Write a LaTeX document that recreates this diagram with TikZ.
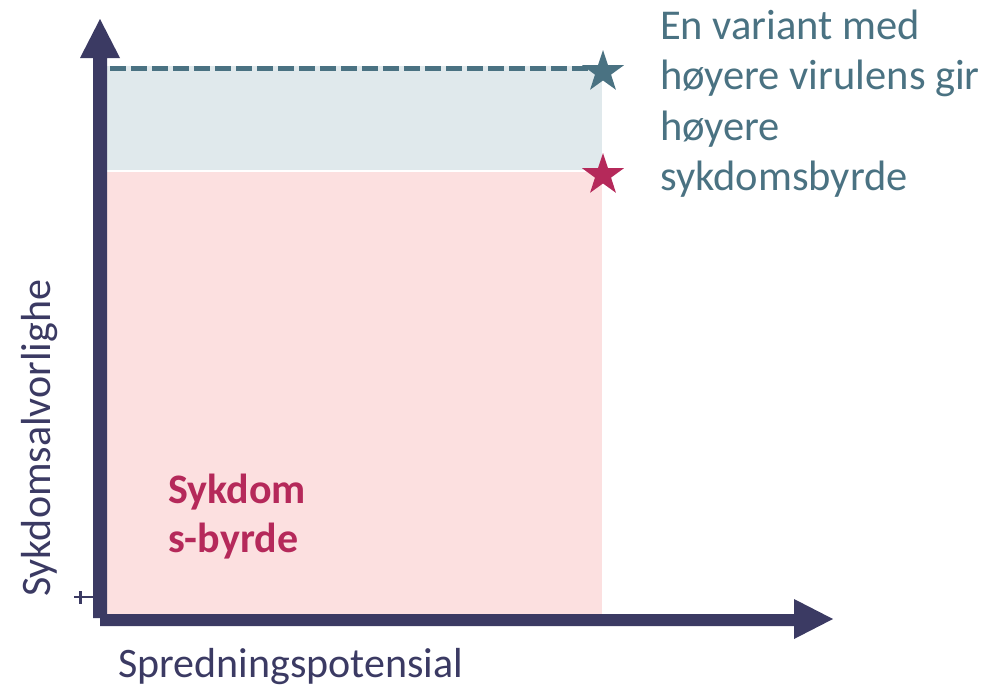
\documentclass[tikz,border=0pt]{standalone}
\usepackage{fontspec}
\setmainfont{Carlito}
\usetikzlibrary{shapes.geometric}
\definecolor{navy}{HTML}{3B3A63}
\definecolor{teal}{HTML}{4A7282}
\definecolor{berry}{HTML}{B5295A}
\definecolor{pinkfill}{HTML}{FCE0E0}
\definecolor{bluefill}{HTML}{E0E9EC}
\begin{document}
\begin{tikzpicture}[x=1pt,y=-1pt,
  axis/.style={draw=none,fill=navy},
  txt/.style={inner sep=0pt,anchor=base west},
  note/.style={txt,text=teal,font=\fontsize{42.5}{50.5}\selectfont},
  starmark/.style={star,star points=5,star point ratio=2.6,minimum size=44pt,inner sep=0pt,draw=none}]
\useasboundingbox (0,0) rectangle (990,691);
% areas
\fill[pinkfill] (107,172) rectangle (602,615);
\fill[bluefill] (107,66) rectangle (602,170);
% dashed level line
\draw[teal,line width=5pt,dash pattern=on 5pt off 5pt on 16pt off 5pt on 16pt off 5pt on 16pt off 5pt on 16pt off 5pt on 16pt off 5pt on 16pt off 5pt on 16pt off 5pt on 16pt off 5pt on 16pt off 5pt on 16pt off 5pt on 16pt off 5pt on 16pt off 5pt on 16pt off 5pt on 16pt off 5pt on 16pt off 5pt on 16pt off 5pt on 16pt off 5pt on 16pt off 5pt on 16pt off 5pt on 16pt off 5pt on 16pt off 5pt on 16pt off 5pt on 16pt off 5pt on 16pt off 5pt on 16pt off 5pt on 16pt off 5pt on 16pt off 5pt on 16pt off 5pt on 16pt off 5pt] (100,68) -- (590,68);
% y axis with arrow head
\fill[axis] (93,618) -- (93,58) -- (80,58) -- (100,19) -- (120,58) -- (107,58) -- (107,618) -- cycle;
% x axis with arrow head
\fill[axis] (100,614) -- (794,614) -- (794,599) -- (833,619) -- (794,639) -- (794,626) -- (100,626) -- cycle;
% tick
\draw[navy,line width=2.5pt] (74,597) -- (93,597) (80.5,591) -- (80.5,604);
% stars
\node[starmark,fill=teal] (s1) at (603,72) {};
\node[starmark,fill=berry] (s2) at (603,175) {};
% labels
\node[note] (t1) at (660,39) {En variant med};
\node[note] (t2) at (660,89.5) {høyere virulens gir};
\node[note] (t3) at (660,140) {høyere};
\node[note] (t4) at (660,190.5) {sykdomsbyrde};
\node[txt,text=berry,font=\bfseries\fontsize{42}{49}\selectfont] (b1) at (168,503) {Sykdom};
\node[txt,text=berry,font=\bfseries\fontsize{42}{49}\selectfont] (b2) at (168,552) {s-byrde};
\node[txt,text=navy,font=\fontsize{42}{48}\selectfont] (xl) at (118,677) {Spredningspotensial};
\node[txt,text=navy,font=\fontsize{42}{48}\selectfont,rotate=90] (yl) at (50,597) {Sykdomsalvorlighe};
\end{tikzpicture}
\end{document}
